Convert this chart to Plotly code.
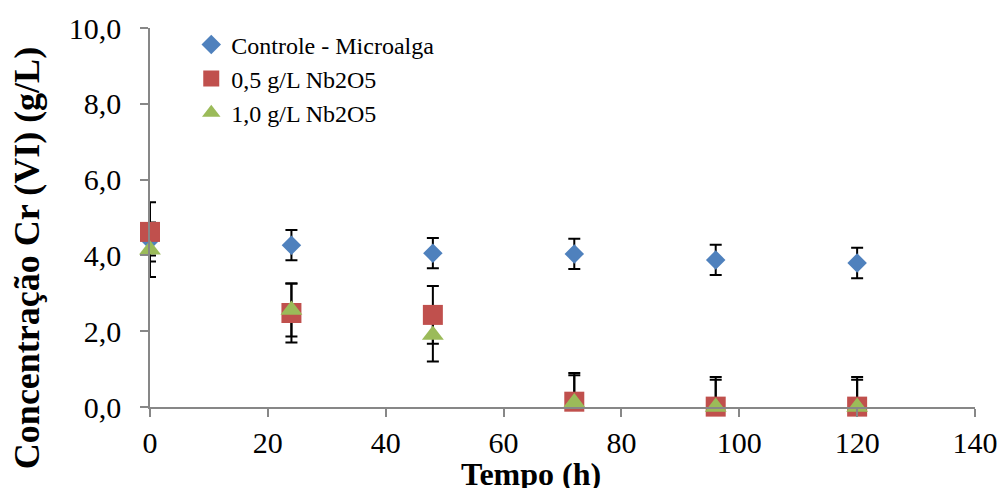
import plotly.graph_objects as go

tempo = [0, 24, 48, 72, 96, 120]
controle = [4.40, 4.27, 4.06, 4.04, 3.88, 3.80]
controle_err = [0.40, 0.40, 0.40, 0.40, 0.40, 0.40]
nb05 = [4.62, 2.48, 2.43, 0.14, 0.01, 0.01]
nb05_err = [0.78, 0.78, 0.76, 0.76, 0.78, 0.78]
nb10 = [4.15, 2.56, 1.90, 0.12, 0.00, 0.00]
nb10_err = [0.72, 0.70, 0.70, 0.72, 0.72, 0.72]

names = ["Controle - Microalga", "0,5 g/L Nb2O5", "1,0 g/L Nb2O5"]
colors = ["#4F81BD", "#C0504D", "#9BBB59"]
symbols = ["diamond", "square", "triangle-up"]
sizes = [15, 20, 19]
series = [controle, nb05, nb10]
errors = [controle_err, nb05_err, nb10_err]

FONT = "Liberation Serif, Times New Roman, serif"
fig = go.Figure()

# error bars underneath all markers
for vals, err in zip(series, errors):
    fig.add_trace(go.Scatter(
        x=tempo, y=vals, mode="markers", cliponaxis=False,
        marker=dict(size=1, opacity=0),
        error_y=dict(type="data", array=err, visible=True,
                     color="black", thickness=2, width=6),
        showlegend=False, hoverinfo="skip"))

for vals, name, c, s, sz in zip(series, names, colors, symbols, sizes):
    fig.add_trace(go.Scatter(
        x=tempo, y=vals, mode="markers", name=name, cliponaxis=False,
        marker=dict(color=c, symbol=s, size=sz, line=dict(width=0))))

fig.update_layout(
    width=1003, height=488,
    margin=dict(l=150, r=28, t=28, b=81),
    plot_bgcolor="white", paper_bgcolor="white",
    separators=",.",
    font=dict(family=FONT, color="black", size=30),
    legend=dict(x=0.05, y=1.015, xanchor="left", yanchor="top",
                font=dict(family=FONT, size=24, color="black"),
                bgcolor="rgba(0,0,0,0)", tracegroupgap=0,
                itemwidth=30),
    showlegend=True,
)
fig.update_xaxes(range=[0, 140], dtick=20, tick0=0, automargin=False,
                 showgrid=False, zeroline=False,
                 showline=True, linecolor="#878787", linewidth=1.5,
                 ticks="outside", ticklen=8, tickcolor="#878787", tickwidth=1.5,
                 tickfont=dict(family=FONT, size=30, color="black"))
fig.update_yaxes(range=[0, 10], dtick=2, tick0=0, tickformat=".1f", automargin=False,
                 showgrid=False, zeroline=False,
                 showline=True, linecolor="#878787", linewidth=1.5,
                 ticks="outside", ticklen=8, tickcolor="#878787", tickwidth=1.5,
                 ticklabelstandoff=13,
                 tickfont=dict(family=FONT, size=30, color="black"))

fig.add_annotation(text="<b>Tempo (h)</b>", xref="paper", yref="paper",
                   x=0.462, y=-0.176, xanchor="center", yanchor="middle",
                   showarrow=False, font=dict(family=FONT, size=32, color="black"))
fig.add_annotation(text="<b>Concentração Cr (VI) (g/L)</b>", xref="paper", yref="paper",
                   x=-0.149, y=0.393, xanchor="center", yanchor="middle", textangle=-90,
                   showarrow=False, font=dict(family=FONT, size=36, color="black"))

fig.write_html("out.html", config={"displayModeBar": False},
               post_script="document.body.style.margin='0';document.body.style.overflow='hidden';")
